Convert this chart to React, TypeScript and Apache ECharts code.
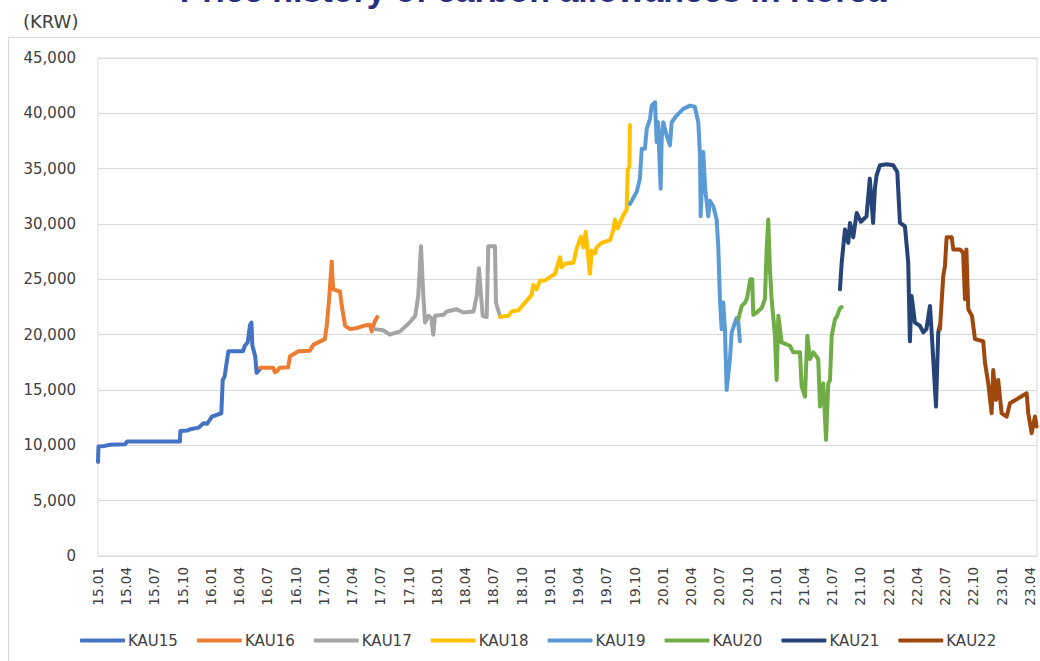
import React, { useEffect, useRef } from "react";
import * as echarts from "echarts";

// Month offsets counted from January 2015; prices in KRW.
const xTickLabels = [
  "15.01", "15.04", "15.07", "15.10",
  "16.01", "16.04", "16.07", "16.10",
  "17.01", "17.04", "17.07", "17.10",
  "18.01", "18.04", "18.07", "18.10",
  "19.01", "19.04", "19.07", "19.10",
  "20.01", "20.04", "20.07", "20.10",
  "21.01", "21.04", "21.07", "21.10",
  "22.01", "22.04", "22.07", "22.10",
  "23.01", "23.04",
];

const seriesNames = ["KAU15", "KAU16", "KAU17", "KAU18", "KAU19", "KAU20", "KAU21", "KAU22"];
const seriesColors = ["#4472C4", "#ED7D31", "#A5A5A5", "#FFC000", "#5B9BD5", "#70AD47", "#264478", "#9E480E"];

const kau15 = [
  [0, 8500], [0.05, 9900], [0.7, 9950], [1.3, 10050], [2.9, 10100], [3.1, 10350],
  [8.7, 10350], [8.75, 11300], [9.5, 11350], [9.8, 11450], [10.7, 11600], [11.2, 12000],
  [11.6, 11950], [12.1, 12600], [13.1, 12900], [13.25, 15900], [13.45, 16200], [13.55, 16800],
  [13.85, 18500], [15.4, 18500], [15.6, 19000], [15.9, 19300], [16.15, 20900], [16.3, 21100],
  [16.4, 19000], [16.7, 18050], [16.85, 16550], [17.2, 16900],
];

const kau16 = [
  [17.2, 17000], [18.6, 17000], [18.8, 16600], [19.0, 16700], [19.3, 17000], [20.2, 17050],
  [20.4, 18050], [21.3, 18500], [22.5, 18550], [22.9, 19100], [24.1, 19600], [24.3, 20800],
  [24.55, 23200], [24.7, 25000], [24.83, 26600], [24.9, 25200], [25.0, 24100], [25.7, 23900],
  [25.9, 22600], [26.25, 20800], [26.8, 20500], [27.5, 20600], [28.2, 20800], [28.9, 20900],
  [29.07, 20300], [29.4, 21200], [29.67, 21600],
];

const kau17 = [
  [29.4, 20500], [30.3, 20400], [31.0, 20000], [32.1, 20300], [33.1, 21100], [33.7, 21700],
  [34.02, 23500], [34.31, 28000], [34.56, 23500], [34.74, 21100], [35.1, 21700], [35.4, 21500],
  [35.62, 20000], [35.8, 21700], [36.7, 21800], [37.05, 22100], [38.1, 22300], [38.8, 22000],
  [39.9, 22100], [40.23, 23500], [40.47, 26000], [40.69, 23500], [40.87, 21700], [41.29, 21600],
  [41.46, 28000], [42.17, 28000], [42.28, 22900], [42.41, 22500], [42.7, 21700],
];

const kau18 = [
  [42.7, 21600], [43.6, 21700], [43.95, 22100], [44.65, 22200], [45.36, 22900], [46.07, 23600],
  [46.24, 24500], [46.6, 24100], [46.95, 24900], [47.5, 24900], [48.0, 25200], [48.55, 25500],
  [49.08, 27000], [49.26, 26100], [49.6, 26400], [50.5, 26500], [50.85, 27800], [51.3, 28850],
  [51.55, 27900], [51.8, 29300], [52.08, 27000], [52.26, 25500], [52.44, 27600], [52.8, 27350],
  [52.98, 27900], [53.5, 28300], [54.4, 28550], [54.74, 29450], [54.92, 30400], [55.2, 29600],
  [55.45, 30100], [55.8, 30800], [56.16, 31300], [56.27, 34900], [56.45, 35200], [56.51, 38950],
];

const kau19 = [
  [56.51, 31800], [57.22, 32900], [57.57, 34100], [57.76, 36800], [58.1, 36800], [58.29, 38600],
  [58.64, 39500], [58.82, 40700], [59.17, 41000], [59.35, 37400], [59.49, 39200], [59.77, 33200],
  [59.88, 37700], [60.05, 39200], [60.41, 38000], [60.76, 37100], [60.94, 39200], [61.47, 39800],
  [62.17, 40400], [62.88, 40700], [63.4, 40600], [63.77, 39200], [63.95, 36200], [64.02, 30700],
  [64.3, 36500], [64.5, 33200], [64.83, 30700], [65.0, 32100], [65.36, 31600], [65.72, 30400],
  [65.89, 28000], [66.07, 23200], [66.25, 20500], [66.42, 22900], [66.6, 20500], [66.78, 15000],
  [67.13, 17800], [67.32, 20200], [67.67, 21100], [67.85, 21500], [68.02, 21100], [68.19, 19400],
];

const kau20 = [
  [68.02, 21400], [68.38, 22600], [68.73, 22900], [68.95, 23300], [69.29, 25000], [69.5, 25000],
  [69.61, 21800], [69.97, 22000], [70.5, 22400], [70.85, 23200], [71.03, 27700], [71.2, 30400],
  [71.38, 25900], [71.56, 23200], [71.91, 19900], [72.09, 15900], [72.27, 21700], [72.45, 20500],
  [72.62, 19300], [73.5, 19000], [73.86, 18400], [74.57, 18400], [74.75, 15300], [75.1, 14400],
  [75.35, 19900], [75.63, 17800], [75.98, 18400], [76.51, 17800], [76.7, 13500], [77.05, 15600],
  [77.34, 10500], [77.58, 15600], [77.76, 15900], [77.94, 19900], [78.29, 21400], [78.47, 21600],
  [78.82, 22400], [79.0, 22500],
];

const kau21 = [
  [78.82, 24100], [79.0, 26500], [79.35, 29500], [79.7, 28300], [79.88, 30100], [80.23, 28800],
  [80.59, 31000], [81.05, 30200], [81.64, 30700], [81.99, 34100], [82.34, 30100], [82.53, 33200],
  [82.71, 34400], [83.06, 35300], [83.78, 35400], [84.48, 35300], [84.91, 34700], [85.19, 30100],
  [85.72, 29800], [86.07, 26500], [86.25, 19400], [86.43, 23500], [86.78, 21100], [87.32, 20800],
  [87.67, 20200], [88.0, 20500], [88.38, 22600], [88.56, 20200], [89.02, 13500], [89.26, 20200],
  [89.44, 20900],
];

const kau22 = [
  [89.44, 20500], [89.79, 25300], [89.97, 26200], [90.15, 28800], [90.69, 28800], [90.86, 27700],
  [91.57, 27700], [91.9, 27400], [92.1, 23200], [92.25, 27700], [92.45, 22300], [92.84, 21700],
  [93.16, 19600], [94.04, 19400], [94.22, 17500], [94.57, 15600], [94.93, 12900], [95.1, 16800],
  [95.39, 14100], [95.63, 15900], [95.99, 12900], [96.53, 12600], [96.88, 13800], [98.65, 14700],
  [98.82, 12900], [99.18, 11100], [99.53, 12600], [99.71, 11700],
];

const seriesData = [kau15, kau16, kau17, kau18, kau19, kau20, kau21, kau22];

const TEXT_COLOR = "#404040";
const GRID_COLOR = "#d9d9d9";
const LABEL_FONT = "'DejaVu Sans', sans-serif";

export default function App() {
  const ref = useRef<HTMLDivElement>(null);

  useEffect(() => {
    if (!ref.current) return;
    const chart = echarts.init(ref.current, null, { renderer: "svg" });

    chart.setOption({
      animation: false,
      backgroundColor: "#ffffff",
      graphic: [
        {
          type: "rect",
          silent: true,
          shape: { x: 8.5, y: 37.5, width: 1100, height: 700 },
          style: { fill: "none", stroke: GRID_COLOR, lineWidth: 1 },
          z: -1,
        },
        {
          // chart title, partly above the top edge of the canvas
          type: "text",
          x: 533,
          y: -10,
          style: {
            text: "Price history of carbon allowances in Korea",
            font: "bold 34px 'Liberation Sans', Arial, sans-serif",
            fill: "#2a2c80",
            align: "center",
            verticalAlign: "middle",
          },
        },
        {
          type: "text",
          x: 23,
          y: 21,
          style: {
            text: "(KRW)",
            font: "18px " + LABEL_FONT,
            fill: TEXT_COLOR,
            align: "left",
            verticalAlign: "middle",
          },
        },
      ],
      grid: {
        left: 98,
        right: 3,
        top: 58,
        bottom: 105,
        show: true,
        borderColor: GRID_COLOR,
        borderWidth: 1,
      },
      xAxis: {
        type: "value",
        min: 0,
        max: 99.75,
        interval: 3,
        axisLine: { show: true, lineStyle: { color: GRID_COLOR, width: 1 } },
        axisTick: { show: false },
        splitLine: { show: false },
        axisLabel: {
          rotate: 90,
          margin: 11,
          color: TEXT_COLOR,
          fontSize: 13.5,
          fontFamily: LABEL_FONT,
          showMaxLabel: false,
          formatter: (v: number) => {
            const i = Math.round(v / 3);
            return Math.abs(v - i * 3) < 1e-6 && xTickLabels[i] ? xTickLabels[i] : "";
          },
        },
      },
      yAxis: {
        type: "value",
        min: 0,
        max: 45000,
        interval: 5000,
        axisLine: { show: false },
        axisTick: { show: false },
        splitLine: { show: true, lineStyle: { color: GRID_COLOR, width: 1 } },
        axisLabel: {
          margin: 22,
          color: TEXT_COLOR,
          fontSize: 15,
          fontFamily: LABEL_FONT,
          formatter: (v: number) => v.toLocaleString("en-US"),
        },
      },
      legend: {
        data: seriesNames,
        left: 75,
        top: 628,
        icon: "roundRect",
        itemWidth: 45,
        itemHeight: 4,
        itemGap: 19,
        textStyle: { color: TEXT_COLOR, fontSize: 15, fontFamily: LABEL_FONT, padding: [0, 0, 0, -2] },
      },
      series: seriesNames.map((name, i) => ({
        name,
        type: "line",
        data: seriesData[i],
        showSymbol: false,
        symbol: "none",
        color: seriesColors[i],
        lineStyle: { color: seriesColors[i], width: 4, join: "round", cap: "round" },
        emphasis: { disabled: true },
      })),
    });

    return () => chart.dispose();
  }, []);

  return (
    <div
      ref={ref}
      style={{ position: "absolute", left: 0, top: 0, width: 1040, height: 661 }}
    />
  );
}
